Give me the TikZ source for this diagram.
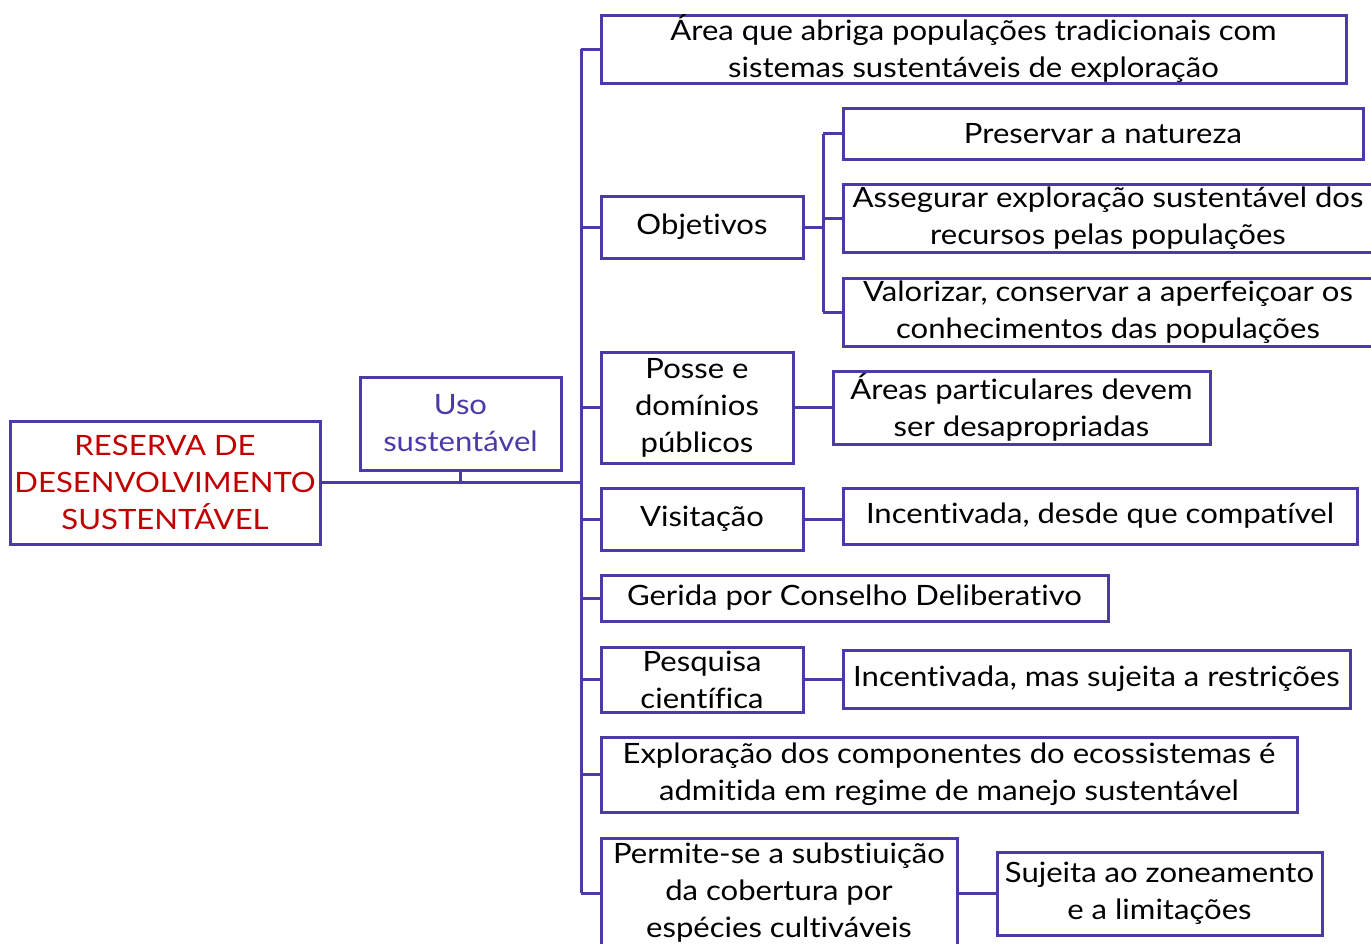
\documentclass[tikz,border=0pt]{standalone}
\usepackage{fontspec}
\setmainfont[FakeStretch=1.11, Ligatures={NoCommon,NoRare}]{Lato}
\usetikzlibrary{calc}
\definecolor{linha}{HTML}{4B3BA8}
\definecolor{vermelho}{HTML}{C00000}
\tikzstyle{caixa}=[rectangle, draw=linha, line width=3pt, inner sep=0, align=center, font=\fontsize{28}{37}\selectfont]
\tikzstyle{ligacao}=[draw=linha, line width=3pt]

\begin{document}
\begin{tikzpicture}[x=1pt,y=-1pt]
\useasboundingbox (0,0) rectangle (1371,943);
\clip (0,0) rectangle (1371,943);
% raiz e tipo
\node[caixa, minimum width=310pt, minimum height=123pt, text=vermelho] (raiz) at (165,482.5) {RESERVA DE\\DESENVOLVIMENTO\\SUSTENT\'AVEL};
\node[caixa, minimum width=201pt, minimum height=93pt, text=linha] (uso) at (460.5,423.5) {Uso\\sustent\'avel};
\coordinate (tronco) at (581,482.5);
% ramos
\node[caixa, minimum width=745pt, minimum height=68pt] (area) at (973.5,49) {Área que abriga populações tradicionais com\\sistemas sustentáveis de exploração};
\node[caixa, minimum width=202pt, minimum height=62pt] (obj) at (702,227) {Objetivos};
\node[caixa, minimum width=192pt, minimum height=111pt] (posse) at (697,407.5) {Posse e\\domínios\\públicos};
\node[caixa, minimum width=202pt, minimum height=62pt] (visit) at (702,519) {Visitação};
\node[caixa, minimum width=507pt, minimum height=46pt] (gerida) at (854.5,598) {Gerida por Conselho Deliberativo};
\node[caixa, minimum width=202pt, minimum height=65pt] (pesq) at (702,679.5) {Pesquisa\\científica};
\node[caixa, minimum width=696pt, minimum height=75pt] (explor) at (949,774.5) {Exploração dos componentes do ecossistemas é\\admitida em regime de manejo sustentável};
\node[caixa, minimum width=356pt, minimum height=110pt] (permite) at (779,893) {Permite-se a substiuição\\da cobertura por\\espécies cultiváveis};
% folhas
\node[caixa, minimum width=520pt, minimum height=51pt] (pres) at (1103,133.5) {Preservar a natureza};
\node[caixa, minimum width=530pt, minimum height=68pt] (asseg) at (1108,218) {Assegurar exploração sustentável dos\\recursos pelas populações};
\node[caixa, minimum width=530pt, minimum height=68pt] (valor) at (1108,312) {Valorizar, conservar a aperfeiçoar os\\conhecimentos das populações};
\node[caixa, minimum width=377pt, minimum height=73pt] (partic) at (1021.5,407.5) {Áreas particulares devem\\ser desapropriadas};
\node[caixa, minimum width=514pt, minimum height=56pt] (incv) at (1100,516) {Incentivada, desde que compatível};
\node[caixa, minimum width=507pt, minimum height=58pt] (incp) at (1096.5,679) {Incentivada, mas sujeita a restrições};
\node[caixa, minimum width=325pt, minimum height=83pt] (sujeita) at (1159.5,893.5) {Sujeita ao zoneamento\\e a limitações};
% ligacoes
\draw[ligacao] (raiz.east) -- (tronco);
\draw[ligacao] (uso.south) -- (uso.south |- raiz.east);
\draw[ligacao] (tronco |- area.west) -- (tronco |- permite.west);
\foreach \n in {area,obj,posse,visit,gerida,pesq,explor,permite}
  \draw[ligacao] (\n.west) -- (\n.west -| tronco);
\coordinate (barra) at (823,227);
\draw[ligacao] (obj.east) -- (barra);
\draw[ligacao] (barra |- pres.west) -- (barra |- valor.west);
\foreach \n in {pres,asseg,valor}
  \draw[ligacao] (\n.west) -- (\n.west -| barra);
\draw[ligacao] (posse.east) -- (partic.west);
\draw[ligacao] (visit.east) -- (visit.east -| incv.west);
\draw[ligacao] (pesq.east) -- (pesq.east -| incp.west);
\draw[ligacao] (permite.east) -- (permite.east -| sujeita.west);
\end{tikzpicture}
\end{document}
